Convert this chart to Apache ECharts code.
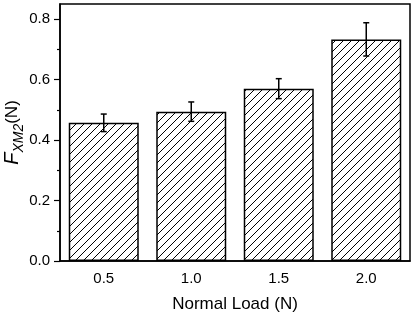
<!DOCTYPE html>
<html>
<head>
<meta charset="utf-8">
<script src="https://cdn.jsdelivr.net/npm/echarts@6/dist/echarts.min.js"></script>
<style>html,body{margin:0;padding:0;background:#fff;}#c{width:411px;height:317px;}</style>
</head>
<body>
<div id="c"></div>
<script>
const categories = ['0.5', '1.0', '1.5', '2.0'];
const values = [0.457, 0.494, 0.570, 0.733];
const errors = [0.029, 0.032, 0.033, 0.055];
const yTicks = [0, 0.2, 0.4, 0.6, 0.8];
const yMinorTicks = [0.1, 0.3, 0.5, 0.7];

function hatch() {
  const s = 8;
  const cv = document.createElement('canvas');
  cv.width = s; cv.height = s;
  const ctx = cv.getContext('2d');
  ctx.fillStyle = '#fff';
  ctx.fillRect(0, 0, s, s);
  ctx.strokeStyle = '#000';
  ctx.lineWidth = 1;
  ctx.beginPath();
  ctx.moveTo(-1, s + 1); ctx.lineTo(s + 1, -1);
  ctx.moveTo(-1, 1); ctx.lineTo(1, -1);
  ctx.moveTo(s - 1, s + 1); ctx.lineTo(s + 1, s - 1);
  ctx.stroke();
  return cv;
}

const font = 'Liberation Sans';
const chart = echarts.init(document.getElementById('c'), null, {renderer: 'canvas'});
chart.setOption({
  animation: false,
  backgroundColor: '#fff',
  textStyle: {fontFamily: font},
  grid: {left: 60, right: 1, top: 4, bottom: 56, containLabel: false, outerBoundsMode: 'none',
    show: true, borderColor: '#000', borderWidth: 1.5, backgroundColor: 'transparent'},
  xAxis: [{
    type: 'category',
    data: categories,
    axisLine: {lineStyle: {color: '#000', width: 1.5}},
    axisTick: {alignWithLabel: true, length: 5, lineStyle: {color: '#000', width: 1.2}},
    axisLabel: {color: '#000', fontSize: 15, margin: 10, fontFamily: font},
    name: 'Normal Load (N)',
    nameLocation: 'middle',
    nameMoveOverlap: false,
    nameGap: 35,
    nameTextStyle: {color: '#000', fontSize: 17, fontFamily: font}
  }, {
    type: 'category',
    data: categories,
    position: 'bottom',
    axisLine: {show: false},
    axisTick: {length: 3, lineStyle: {color: '#000', width: 1.2}},
    axisLabel: {show: false}
  }],
  yAxis: [{
    type: 'value',
    min: 0, max: 0.85,
    axisLine: {show: true, lineStyle: {color: '#000', width: 1.5}},
    axisTick: {show: true, length: 6, customValues: yTicks, lineStyle: {color: '#000', width: 1.2}},
    axisLabel: {color: '#000', fontSize: 15, margin: 10, fontFamily: font, customValues: yTicks,
      formatter: v => v.toFixed(1)},
    splitLine: {show: false},
    name: '{f|F}{s|XM2}{n|(N)}',
    nameLocation: 'middle',
    nameMoveOverlap: false,
    nameGap: 37,
    nameTextStyle: {
      rich: {
        f: {fontSize: 20, fontStyle: 'italic', color: '#000', fontFamily: font, lineHeight: 22},
        s: {fontSize: 14, fontStyle: 'italic', color: '#000', fontFamily: font, lineHeight: 22, verticalAlign: 'bottom', padding: [0, 0, -3, 0]},
        n: {fontSize: 17, color: '#000', fontFamily: font, lineHeight: 22}
      }
    }
  }, {
    type: 'value',
    min: 0, max: 0.85,
    position: 'left',
    axisLine: {show: false},
    axisTick: {show: true, length: 3, customValues: yMinorTicks, lineStyle: {color: '#000', width: 1.2}},
    axisLabel: {show: false},
    splitLine: {show: false}
  }],
  series: [{
    type: 'bar',
    data: values,
    barWidth: '80%',
    itemStyle: {color: {image: hatch(), repeat: 'repeat'}, borderColor: '#000', borderWidth: 1.5}
  }, {
    type: 'custom',
    data: values.map((v, i) => [i, v, errors[i]]),
    z: 10,
    renderItem: function (params, api) {
      const i = api.value(0), v = api.value(1), e = api.value(2);
      const top = api.coord([i, v + e]);
      const bot = api.coord([i, v - e]);
      const hw = 3;
      const st = {stroke: '#000', lineWidth: 1.5};
      return {type: 'group', children: [
        {type: 'line', shape: {x1: top[0], y1: top[1], x2: bot[0], y2: bot[1]}, style: st},
        {type: 'line', shape: {x1: top[0] - hw, y1: top[1], x2: top[0] + hw, y2: top[1]}, style: st},
        {type: 'line', shape: {x1: bot[0] - hw, y1: bot[1], x2: bot[0] + hw, y2: bot[1]}, style: st}
      ]};
    }
  }]
});
</script>
</body>
</html>
